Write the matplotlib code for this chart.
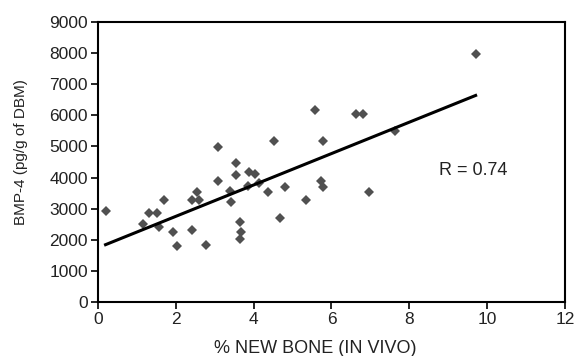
import matplotlib.pyplot as plt
import numpy as np

plt.rcParams.update({
    'font.family': ['Liberation Sans', 'DejaVu Sans'],
    'font.size': 12.5,
})

# % new bone (in vivo) vs BMP-4 content
new_bone = np.array([0.2, 1.15, 1.32, 1.51, 1.57, 1.71, 1.94, 2.03, 2.41, 2.43,
                     2.54, 2.59, 2.79, 3.09, 3.08, 3.39, 3.41, 3.56, 3.54, 3.64,
                     3.67, 3.64, 3.87, 3.86, 4.04, 4.13, 4.38, 4.53, 4.67, 4.81,
                     5.34, 5.58, 5.77, 5.73, 5.77, 6.62, 6.80, 6.97, 7.63, 9.71])
bmp4 = np.array([2920, 2500, 2850, 2850, 2420, 3270, 2260, 1800, 2320, 3270,
                 3530, 3270, 1830, 4990, 3880, 3570, 3200, 4470, 4080, 2580,
                 2260, 2020, 4190, 3730, 4120, 3830, 3530, 5160, 2690, 3700,
                 3270, 6160, 5190, 3890, 3700, 6030, 6030, 3530, 5500, 7960])

fit_x = [0.2, 9.7]
fit_y = [1840, 6640]

fig = plt.figure(figsize=(5.75, 3.56), dpi=100)
ax = fig.add_axes([0.170, 0.152, 0.813, 0.786])

ax.plot(new_bone, bmp4, 'D', color='#505050', markersize=5.5, markeredgewidth=0)
ax.plot(fit_x, fit_y, '-', color='black', linewidth=2.2)
ax.text(8.75, 4240, 'R = 0.74', fontsize=13, va='center', ha='left', color='#222222')

ax.set_xlim(0, 12)
ax.set_ylim(0, 9000)
ax.set_xticks(np.arange(0, 13, 2))
ax.set_yticks(np.arange(0, 9001, 1000))
ax.set_xlabel('% NEW BONE (IN VIVO)', fontsize=13, color='#222222')
ax.set_ylabel('BMP-4 (pg/g of DBM)', fontsize=11, color='#222222')
ax.xaxis.set_label_coords(0.466, -0.135)
ax.yaxis.set_label_coords(-0.150, 0.536)

for s in ax.spines.values():
    s.set_linewidth(1.5)
ax.tick_params(width=1.2, length=5, pad=2, labelcolor='#222222')

plt.savefig('out.png', dpi=100)
